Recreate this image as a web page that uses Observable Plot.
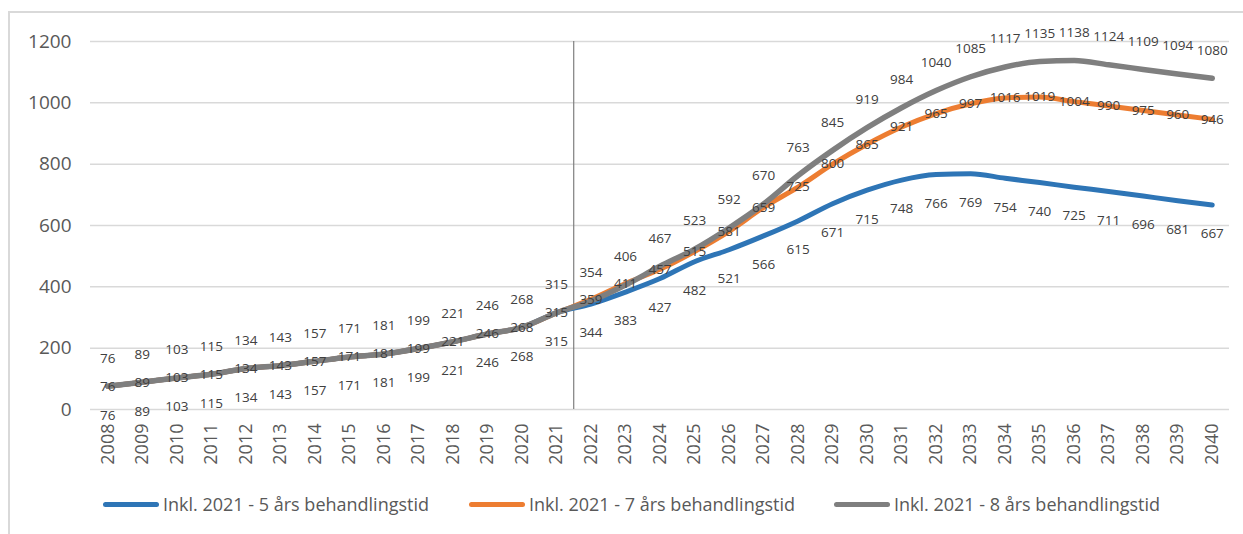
<!DOCTYPE html>
<html>
<head>
<meta charset="utf-8">
<script src="https://cdn.jsdelivr.net/npm/d3@7"></script>
<script src="https://cdn.jsdelivr.net/npm/@observablehq/plot@0.6"></script>
<style>
  html, body { margin: 0; padding: 0; background: #fff; }
  body { width: 1243px; height: 534px; position: relative; overflow: hidden; font-family: "Open Sans", sans-serif; }
  #frame { position: absolute; left: 8px; top: 11px; width: 1240px; height: 530px; border-left: 2px solid #D9D9D9; border-top: 2px solid #D9D9D9; box-sizing: border-box; }
  #chart { position: absolute; left: 0; top: 0; }
  #legend { position: absolute; left: 0; top: 491px; width: 1243px; height: 26px; }
  .item { position: absolute; top: 0; display: flex; align-items: center; height: 26px; font-size: 18px; color: #595959; white-space: nowrap; }
  .sw { width: 56px; height: 5px; border-radius: 3px; margin-right: 4px; }
</style>
</head>
<body>
<div id="frame"></div>
<div id="chart"></div>
<div id="legend"></div>
<script>
const years = [2008, 2009, 2010, 2011, 2012, 2013, 2014, 2015, 2016, 2017, 2018, 2019, 2020, 2021,
  2022, 2023, 2024, 2025, 2026, 2027, 2028, 2029, 2030, 2031, 2032, 2033, 2034, 2035, 2036, 2037, 2038, 2039, 2040];

const seriesNames = [
  "Inkl. 2021 - 5 års behandlingstid",
  "Inkl. 2021 - 7 års behandlingstid",
  "Inkl. 2021 - 8 års behandlingstid"
];

const five = [76, 89, 103, 115, 134, 143, 157, 171, 181, 199, 221, 246, 268, 315,
  344, 383, 427, 482, 521, 566, 615, 671, 715, 748, 766, 769, 754, 740, 725, 711, 696, 681, 667];

const seven = [76, 89, 103, 115, 134, 143, 157, 171, 181, 199, 221, 246, 268, 315,
  359, 411, 457, 515, 581, 659, 725, 800, 865, 921, 965, 997, 1016, 1019, 1004, 990, 975, 960, 946];

const eight = [76, 89, 103, 115, 134, 143, 157, 171, 181, 199, 221, 246, 268, 315,
  354, 406, 467, 523, 592, 670, 763, 845, 919, 984, 1040, 1085, 1117, 1135, 1138, 1124, 1109, 1094, 1080];

const yTicks = [0, 200, 400, 600, 800, 1000, 1200];
const dividerYear = [2021.5];

const colors = ["#2E75B6", "#ED7D31", "#7F7F7F"];

const rows = (vals) => years.map((y, i) => ({year: y, value: vals[i]}));
const d5 = rows(five), d7 = rows(seven), d8 = rows(eight);

const labelStyle = {fill: "#404040", fontSize: 13.5, fontFamily: "Open Sans", text: d => String(d.value)};

const plot = Plot.plot({
  width: 1243,
  height: 475,
  marginLeft: 90,
  marginRight: 14,
  marginTop: 41,
  marginBottom: 66,
  style: {fontFamily: "Open Sans", background: "transparent", overflow: "visible"},
  x: {type: "linear", domain: [2007.5, 2040.5]},
  y: {domain: [0, 1200]},
  marks: [
    Plot.ruleY(yTicks, {stroke: "#D9D9D9", strokeWidth: 1.5}),
    Plot.ruleX(dividerYear, {stroke: "#7F7F7F", strokeWidth: 1.2}),
    Plot.axisY(yTicks, {tickSize: 0, tickPadding: 19, fontSize: 19, fill: "#595959", label: null, tickFormat: d => String(d)}),
    Plot.axisX(years, {tickSize: 0, tickPadding: 14, tickRotate: -90, fontSize: 18, fill: "#595959", label: null, tickFormat: d => String(d)}),
    Plot.line(d5, {x: "year", y: "value", stroke: colors[0], strokeWidth: 5, curve: "monotone-x"}),
    Plot.line(d7, {x: "year", y: "value", stroke: colors[1], strokeWidth: 5, curve: "monotone-x"}),
    Plot.line(d8, {x: "year", y: "value", stroke: colors[2], strokeWidth: 5.5, curve: "monotone-x"}),
    Plot.text(d5, {x: "year", y: "value", dy: 29, ...labelStyle}),
    Plot.text(d7, {x: "year", y: "value", dy: 0, ...labelStyle}),
    Plot.text(d8, {x: "year", y: "value", dy: -28, ...labelStyle})
  ]
});
document.getElementById("chart").appendChild(plot);

const legendLeft = [103, 469, 834];
const legend = document.getElementById("legend");
seriesNames.forEach((name, i) => {
  const item = document.createElement("div");
  item.className = "item";
  item.style.left = legendLeft[i] + "px";
  const sw = document.createElement("div");
  sw.className = "sw";
  sw.style.background = colors[i];
  const t = document.createElement("span");
  t.textContent = name;
  item.appendChild(sw);
  item.appendChild(t);
  legend.appendChild(item);
});
</script>
</body>
</html>
